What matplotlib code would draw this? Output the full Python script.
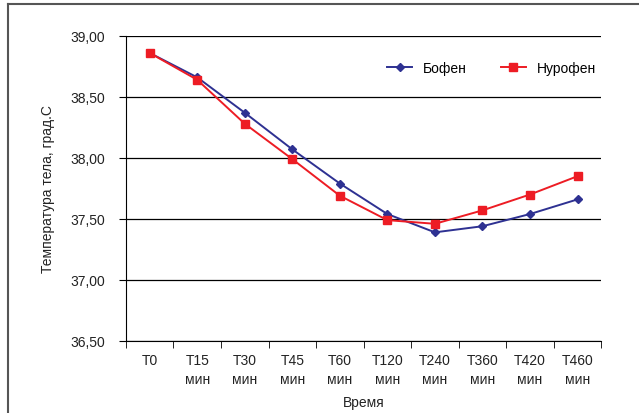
import matplotlib.pyplot as plt
from matplotlib.ticker import FuncFormatter
from matplotlib.lines import Line2D

plt.rcParams['font.family'] = ['Liberation Sans', 'DejaVu Sans']

categories = ["Т0", "Т15\nмин", "Т30\nмин", "Т45\nмин", "Т60\nмин",
              "Т120\nмин", "Т240\nмин", "Т360\nмин", "Т420\nмин", "Т460\nмин"]
bofen = [38.86, 38.66, 38.37, 38.07, 37.79, 37.54, 37.39, 37.44, 37.54, 37.66]
nurofen = [38.86, 38.64, 38.28, 37.99, 37.69, 37.49, 37.46, 37.57, 37.70, 37.85]
y_ticks = [36.5, 37.0, 37.5, 38.0, 38.5, 39.0]

fig = plt.figure(figsize=(6.39, 4.14), dpi=100)
ax = fig.add_axes([0.197, 0.174, 0.744, 0.737])

# outer frame (only top and left visible in the reference)
fig.add_artist(Line2D([8/639, 8/639], [0, 1 - 5/414], color="#555555", lw=1.5))
fig.add_artist(Line2D([8/639, 1], [1 - 5/414, 1 - 5/414], color="#555555", lw=1.5))

x = range(len(categories))
ax.plot(x, bofen, color="#2E3192", marker="D", markersize=4, lw=1.4, label="Бофен", zorder=3)
ax.plot(x, nurofen, color="#ED1C24", marker="s", markersize=6, lw=1.4, label="Нурофен", zorder=3)

ax.set_xlim(-0.5, len(categories) - 0.5)
ax.set_ylim(36.5, 39.0)
ax.set_yticks(y_ticks)
ax.yaxis.set_major_formatter(FuncFormatter(lambda v, p: f"{v:.2f}".replace(".", ",")))
ax.grid(axis="y", color="black", lw=0.9)
ax.set_axisbelow(True)

ax.set_xticks([i for i in x])
ax.set_xticklabels(categories, fontsize=10, color="#222222", linespacing=1.45)
ax.tick_params(axis="x", length=0, pad=9)
ax.set_xticks([i - 0.5 for i in range(len(categories) + 1)], minor=True)
ax.tick_params(axis="x", which="minor", length=5, direction="out", color="black")
ax.tick_params(axis="y", length=5, direction="out", labelsize=10, labelcolor="#222222", pad=10)

for s in ["top", "right"]:
    ax.spines[s].set_visible(False)
ax.spines["left"].set_color("black")
ax.spines["bottom"].set_color("black")

ax.set_xlabel("Время", fontsize=10, color="#222222", labelpad=6)
ax.set_ylabel("Температура тела, град.С", fontsize=10, color="#222222", labelpad=11)

ax.legend(loc="upper right", bbox_to_anchor=(1.015, 0.96), ncol=2, frameon=False,
          fontsize=10, columnspacing=2.4, handlelength=1.8)

fig.savefig("out.png", dpi=100)
